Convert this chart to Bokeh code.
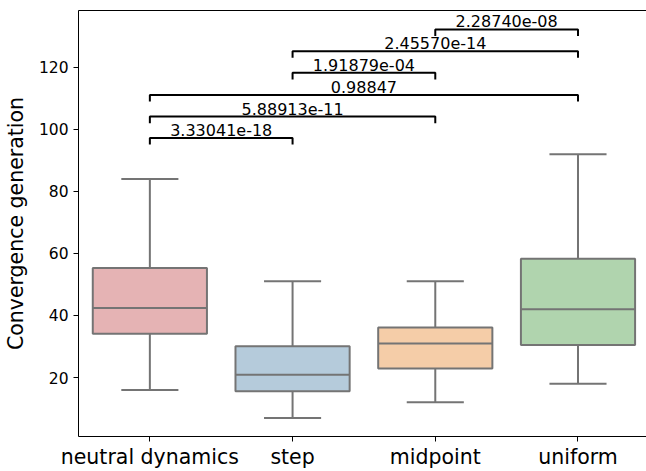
from bokeh.plotting import figure
from bokeh.models import Range1d, FixedTicker, LinearAxis, ColumnDataSource
from bokeh.embed import file_html
from bokeh.resources import INLINE
from bokeh.core.properties import value

# ---- data ----
categories = ["neutral dynamics", "step", "midpoint", "uniform"]
whisker_low = [16.0, 7.0, 12.0, 18.0]
q1 = [34.1, 15.6, 22.9, 30.5]
median = [42.4, 20.9, 31.0, 42.0]
q3 = [55.3, 30.1, 36.1, 58.3]
whisker_high = [84.0, 51.0, 51.0, 92.0]
colors = ["#e5b3b4", "#b5cbdb", "#f5cda8", "#b0d4ae"]

pair_a = [0, 0, 0, 1, 1, 2]
pair_b = [1, 2, 3, 2, 3, 3]
pair_label = ["3.33041e-18", "5.88913e-11", "0.98847", "1.91879e-04", "2.45570e-14", "2.28740e-08"]
pair_y = [97.2, 104.1, 111.1, 118.2, 125.2, 132.2]
bracket_drop = 2.1

y_ticks = [20, 40, 60, 80, 100, 120]

FONT = "DejaVu Sans"
xs = list(range(len(categories)))
half = 0.4
cap = 0.2

p = figure(width=646, height=471, output_backend="svg", toolbar_location=None,
           x_range=Range1d(-0.5, 3.48), y_range=Range1d(1.0, 138.3),
           min_border_left=77, min_border_right=0, min_border_top=10, min_border_bottom=34,
           x_axis_location="below")
p.outline_line_color = None
p.grid.visible = False
p.background_fill_color = "white"
p.border_fill_color = "white"

# boxes
src = ColumnDataSource(dict(
    left=[x - half for x in xs], right=[x + half for x in xs],
    q1=q1, q3=q3, med=median, lo=whisker_low, hi=whisker_high, x=xs,
    cl=[x - cap for x in xs], cr=[x + cap for x in xs], color=colors))
lc = "#747474"
lw = 2
p.segment(x0="x", y0="q3", x1="x", y1="hi", source=src, line_color=lc, line_width=lw)
p.segment(x0="x", y0="q1", x1="x", y1="lo", source=src, line_color=lc, line_width=lw)
p.segment(x0="cl", y0="hi", x1="cr", y1="hi", source=src, line_color=lc, line_width=lw)
p.segment(x0="cl", y0="lo", x1="cr", y1="lo", source=src, line_color=lc, line_width=lw)
p.quad(left="left", right="right", bottom="q1", top="q3", source=src,
       fill_color="color", line_color=lc, line_width=lw)
p.segment(x0="left", y0="med", x1="right", y1="med", source=src, line_color=lc, line_width=lw)

# significance brackets
bx = []
by = []
for a, b, y in zip(pair_a, pair_b, pair_y):
    bx.append([a, a, b, b])
    by.append([y - bracket_drop, y, y, y - bracket_drop])
p.multi_line(xs=bx, ys=by, line_color="black", line_width=2)
p.text(x=[(a + b) / 2 for a, b in zip(pair_a, pair_b)], y=pair_y, text=pair_label,
       text_font=value(FONT), text_font_size="16px", text_color="black",
       text_align="center", text_baseline="bottom", y_offset=-2)

# axes
xa = p.xaxis[0]
xa.ticker = FixedTicker(ticks=xs)
xa.major_label_overrides = {i: c for i, c in enumerate(categories)}
xa.major_label_text_font = FONT
xa.major_label_text_font_size = "20.5px"
xa.major_label_text_color = "black"
xa.major_label_standoff = 3
xa.major_tick_out = 5
xa.major_tick_in = 0
xa.minor_tick_line_color = None
xa.axis_line_color = "black"
xa.major_tick_line_color = "black"

ya = p.yaxis[0]
ya.ticker = FixedTicker(ticks=y_ticks)
ya.major_label_text_font = FONT
ya.major_label_text_font_size = "15.5px"
ya.major_label_text_color = "black"
ya.major_label_standoff = 5
ya.major_tick_out = 5
ya.major_tick_in = 0
ya.minor_tick_line_color = None
ya.axis_line_color = "black"
ya.major_tick_line_color = "black"
ya.axis_label = "Convergence generation"
ya.axis_label_text_font = FONT
ya.axis_label_text_font_size = "20.5px"
ya.axis_label_text_font_style = "normal"
ya.axis_label_text_color = "black"
ya.axis_label_standoff = 8

top = LinearAxis(ticker=FixedTicker(ticks=[]))
top.major_tick_out = 0
top.major_tick_in = 0
top.minor_tick_line_color = None
top.major_label_standoff = 0
top.major_label_text_font_size = "0px"
top.axis_line_color = "black"
p.add_layout(top, "above")

open("out.html", "w").write(file_html(p, INLINE))
